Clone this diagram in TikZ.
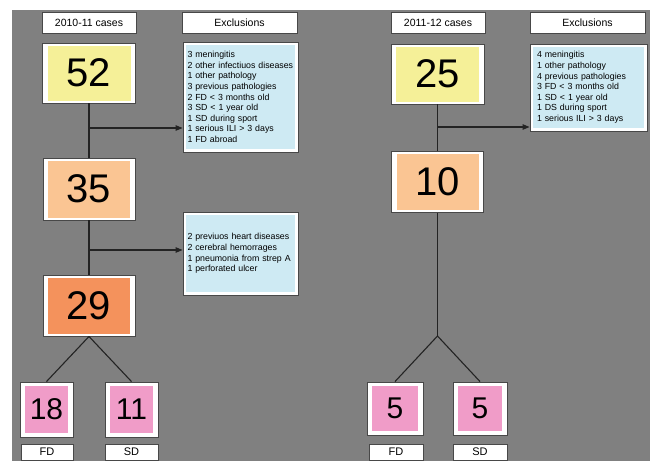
\documentclass[tikz,border=0pt]{standalone}
\usepackage{fontspec}
\setmainfont{Liberation Sans}
\usetikzlibrary{arrows.meta}
\definecolor{bg}{RGB}{128,128,128}
\definecolor{edge}{RGB}{72,72,72}
\definecolor{ln}{RGB}{35,35,35}
\definecolor{cyel}{RGB}{245,240,152}
\definecolor{cpeach}{RGB}{250,197,147}
\definecolor{corange}{RGB}{244,146,92}
\definecolor{cpink}{RGB}{240,156,200}
\definecolor{cblue}{RGB}{206,234,243}
\tikzset{
  box/.style={draw=edge, line width=0.9pt, fill=white, inner sep=0pt},
  numbox/.style={box, font=\fontsize{40}{40}\selectfont,
    path picture={\fill[#1] ([xshift=5pt,yshift=-2.5pt]path picture bounding box.north west) rectangle ([xshift=-5pt,yshift=2.5pt]path picture bounding box.south east);}},
  smallbox/.style={box, font=\fontsize{30}{30}\selectfont,
    path picture={\fill[#1] ([xshift=5pt,yshift=-4pt]path picture bounding box.north west) rectangle ([xshift=-5pt,yshift=4pt]path picture bounding box.south east);}},
  exbox/.style={box, align=left, inner xsep=5pt, font=\fontsize{8.8}{10.6}\selectfont,
    path picture={\fill[cblue] ([xshift=3pt,yshift=-3pt]path picture bounding box.north west) rectangle ([xshift=-3pt,yshift=3pt]path picture bounding box.south east);}},
  headbox/.style={box, font=\fontsize{10.5}{11}\selectfont, minimum height=21pt},
  labbox/.style={box, font=\fontsize{11}{11}\selectfont, minimum height=16pt},
  conn/.style={draw=ln, line width=1.1pt},
  arr/.style={conn, -{Triangle[length=7pt,width=5.5pt]}}
}
\begin{document}
\begin{tikzpicture}[x=1pt,y=-1pt]
\fill[white] (0,0) rectangle (650,461);
\fill[bg] (12,10) rectangle (650,461);
\useasboundingbox (0,0) rectangle (650,461);

% headers
\node[headbox, minimum width=94pt] (hd1) at (89,22.5) {2010-11 cases};
\node[headbox, minimum width=115pt] (hx1) at (239.5,22.5) {Exclusions};
\node[headbox, minimum width=94pt] (hd2) at (438,22.5) {2011-12 cases};
\node[headbox, minimum width=115pt] (hx2) at (587.5,22.5) {Exclusions};

% left column
\node[numbox=cyel, minimum width=93pt, minimum height=60pt] (n52) at (89,73) {52};
\node[numbox=cpeach, minimum width=92pt, minimum height=62pt] (n35) at (89,189) {35};
\node[numbox=corange, minimum width=92pt, minimum height=61pt] (n29) at (89,305.5) {29};
\node[smallbox=cpink, minimum width=53pt, minimum height=55pt] (n18) at (46.5,409.5) {18};
\node[smallbox=cpink, minimum width=53pt, minimum height=55pt] (n11) at (131.5,409.5) {11};
\node[labbox, minimum width=52pt] (fd1) at (47,452) {FD};
\node[labbox, minimum width=53pt] (sd1) at (131.5,452) {SD};

\node[exbox, minimum width=115pt, text width=106pt, inner xsep=4.5pt, minimum height=110pt] (ex1) at (240.5,97) {3 meningitis\\2 other infectiuos diseases\\1 other pathology\\3 previous pathologies\\2 FD < 3 months old\\3 SD < 1 year old\\1 SD during sport\\1 serious ILI > 3 days\\1 FD abroad};
\node[exbox, minimum width=115pt, text width=106pt, inner xsep=4.5pt, minimum height=83pt] (ex2) at (240.5,253.5) {2 previuos heart diseases\\2 cerebral hemorrages\\1 pneumonia from strep A\\1 perforated ulcer};

% right column
\node[numbox=cyel, minimum width=93pt, minimum height=60pt] (n25) at (437.5,74) {25};
\node[numbox=cpeach, minimum width=92pt, minimum height=61pt] (n10) at (437.5,182) {10};
\node[smallbox=cpink, minimum width=56pt, minimum height=53pt] (n5a) at (395,408.5) {5};
\node[smallbox=cpink, minimum width=54pt, minimum height=53pt] (n5b) at (480,408.5) {5};
\node[labbox, minimum width=54pt] (fd2) at (396,452) {FD};
\node[labbox, minimum width=54pt] (sd2) at (480,452) {SD};

\node[exbox, minimum width=117pt, text width=103pt, inner xsep=7pt, minimum height=87pt] (ex3) at (588.5,87.5) {4 meningitis\\1 other pathology\\4 previous pathologies\\3 FD < 3 months old\\1 SD < 1 year old\\1 DS during sport\\1 serious ILI > 3 days};

% connectors left
\coordinate (b1) at (89,128);
\coordinate (b2) at (89,250);
\draw[conn] (n52.south) -- (n35.north);
\draw[conn] (n35.south) -- (n29.north);
\draw[arr] (b1) -- (b1 -| ex1.west);
\draw[arr] (b2) -- (b2 -| ex2.west);
\draw[conn] (n29.south) -- (n18.north);
\draw[conn] (n29.south) -- (n11.north);

% connectors right
\coordinate (b3) at (437.5,127);
\coordinate (a2) at (437.5,336);
\draw[conn] (n25.south) -- (n10.north);
\draw[arr] (b3) -- (b3 -| ex3.west);
\draw[conn] (n10.south) -- (a2);
\draw[conn] (a2) -- (n5a.north);
\draw[conn] (a2) -- (n5b.north);
\end{tikzpicture}
\end{document}
